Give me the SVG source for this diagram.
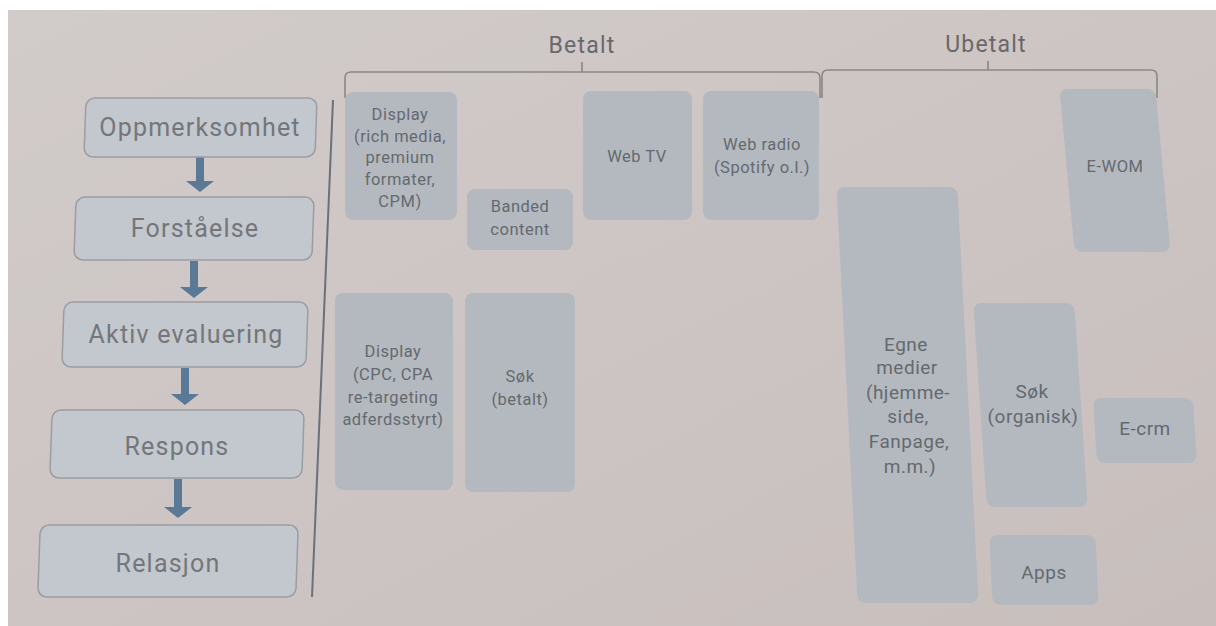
<svg xmlns="http://www.w3.org/2000/svg" width="1216" height="626" viewBox="0 0 1216 626">
  <defs>
    <linearGradient id="paper" x1="0" y1="0" x2="1" y2="1">
      <stop offset="0" stop-color="#d1cbc9"/>
      <stop offset="1" stop-color="#c8bfbd"/>
    </linearGradient>
    <style>
      .stage { fill: #c3c8ce; stroke: #9b9da1; stroke-width: 1.5; }
      .stage-label { font-family: Roboto, "DejaVu Sans", sans-serif; font-size: 25px; fill: #74767a; text-anchor: middle; letter-spacing: 1.2px; }
      .tile { fill: #b4b9c0; }
      .tile-label { font-family: Roboto, "DejaVu Sans", sans-serif; font-size: 16.5px; fill: #65696e; text-anchor: middle; letter-spacing: 0.5px; }
      .big { font-size: 19px; }
      .head { font-family: Roboto, "DejaVu Sans", sans-serif; font-size: 23px; fill: #68686c; text-anchor: middle; letter-spacing: 1.2px; }
      .bracket { fill: none; stroke: #8c8688; stroke-width: 1.6; }
      .flow { fill: #5a7996; }
      .divider { stroke: #6b707b; stroke-width: 2; }
    </style>
  </defs>

  <!-- page -->
  <rect width="1216" height="626" fill="#ffffff"/>
  <rect x="8" y="10" width="1208" height="616" fill="url(#paper)"/>

  <!-- group headers -->
  <g id="header-betalt">
    <path class="bracket" d="M345,98 L345,78 Q345,72 351,72 L814,72 Q820,72 820,78 L820,98 M582,62 L582,72"/>
    <text class="head" x="582" y="53">Betalt</text>
  </g>
  <g id="header-ubetalt">
    <path class="bracket" d="M822,98 L822,76 Q822,70 828,70 L1151,70 Q1157,70 1157,76 L1157,98 M988,61 L988,70"/>
    <text class="head" x="986" y="52">Ubetalt</text>
  </g>

  <line class="divider" x1="333" y1="100" x2="312" y2="597"/>

  <!-- connectors between stages -->
  <g id="connectors">
    <polygon class="flow" points="196,157 204,157 204,181 214,181 200,192 186,181 196,181"/>
    <polygon class="flow" points="190,261 198,261 198,287 208,287 194,298 180,287 190,287"/>
    <polygon class="flow" points="181,368 189,368 189,394 199,394 185,405 171,394 181,394"/>
    <polygon class="flow" points="174,479 182,479 182,507 192,507 178,518 164,507 174,507"/>
  </g>

  <!-- stages -->
  <g id="stage-oppmerksomhet">
    <rect class="stage" x="85" y="98" width="231" height="59" rx="9" transform="translate(200,127.5) skewX(-2) translate(-200,-127.5)"/>
    <text class="stage-label" x="200" y="136">Oppmerksomhet</text>
  </g>
  <g id="stage-forstaelse">
    <rect class="stage" x="75" y="197" width="238" height="63" rx="9" transform="translate(194,228.5) skewX(-2) translate(-194,-228.5)"/>
    <text class="stage-label" x="195" y="237">Forståelse</text>
  </g>
  <g id="stage-aktiv">
    <rect class="stage" x="63" y="302" width="244" height="65" rx="9" transform="translate(185,334.5) skewX(-2) translate(-185,-334.5)"/>
    <text class="stage-label" x="186" y="343">Aktiv evaluering</text>
  </g>
  <g id="stage-respons">
    <rect class="stage" x="51" y="410" width="252" height="68" rx="9" transform="translate(177,444) skewX(-2) translate(-177,-444)"/>
    <text class="stage-label" x="177" y="455">Respons</text>
  </g>
  <g id="stage-relasjon">
    <rect class="stage" x="39" y="525" width="258" height="72" rx="9" transform="translate(168,561) skewX(-2) translate(-168,-561)"/>
    <text class="stage-label" x="168" y="572">Relasjon</text>
  </g>

  <!-- paid channels -->
  <g id="display-rich">
    <rect class="tile" x="345" y="92" width="112" height="128" rx="8"/>
    <text class="tile-label" x="400" y="120">Display</text>
    <text class="tile-label" x="400" y="142">(rich media,</text>
    <text class="tile-label" x="400" y="163">premium</text>
    <text class="tile-label" x="400" y="185">formater,</text>
    <text class="tile-label" x="400" y="207">CPM)</text>
  </g>
  <g id="banded-content">
    <rect class="tile" x="467" y="189" width="106" height="61" rx="8"/>
    <text class="tile-label" x="520" y="212">Banded</text>
    <text class="tile-label" x="520" y="235">content</text>
  </g>
  <g id="web-tv">
    <rect class="tile" x="583" y="91" width="109" height="129" rx="8"/>
    <text class="tile-label" x="637" y="162">Web TV</text>
  </g>
  <g id="web-radio">
    <rect class="tile" x="703" y="91" width="116" height="129" rx="8"/>
    <text class="tile-label" x="762" y="150">Web radio</text>
    <text class="tile-label" x="762" y="173">(Spotify o.l.)</text>
  </g>
  <g id="display-cpc">
    <rect class="tile" x="335" y="293" width="118" height="197" rx="8"/>
    <text class="tile-label" x="393" y="357">Display</text>
    <text class="tile-label" x="393" y="380">(CPC, CPA</text>
    <text class="tile-label" x="393" y="403">re-targeting</text>
    <text class="tile-label" x="393" y="425" letter-spacing="0">adferdsstyrt)</text>
  </g>
  <g id="sok-betalt">
    <rect class="tile" x="465" y="293" width="110" height="199" rx="8"/>
    <text class="tile-label" x="520" y="382">Søk</text>
    <text class="tile-label" x="520" y="405">(betalt)</text>
  </g>

  <!-- unpaid channels -->
  <g id="e-wom">
    <rect class="tile" x="1067" y="89" width="96" height="163" rx="8" transform="translate(1115,170.5) skewX(5.3) translate(-1115,-170.5)"/>
    <text class="tile-label" x="1115" y="172">E-WOM</text>
  </g>
  <g id="egne-medier">
    <rect class="tile" x="847" y="187" width="121" height="416" rx="8" transform="translate(907,395) skewX(2.9) translate(-907,-395)"/>
    <text class="tile-label big" x="906" y="351">Egne</text>
    <text class="tile-label big" x="907" y="374">medier</text>
    <text class="tile-label big" x="908" y="399">(hjemme-</text>
    <text class="tile-label big" x="908" y="423">side,</text>
    <text class="tile-label big" x="909" y="448">Fanpage,</text>
    <text class="tile-label big" x="910" y="473">m.m.)</text>
  </g>
  <g id="sok-organisk">
    <rect class="tile" x="980" y="303" width="101" height="204" rx="8" transform="translate(1031,405) skewX(3.8) translate(-1031,-405)"/>
    <text class="tile-label big" x="1032" y="398">Søk</text>
    <text class="tile-label big" x="1033" y="423">(organisk)</text>
  </g>
  <g id="e-crm">
    <rect class="tile" x="1095" y="398" width="100" height="65" rx="8" transform="translate(1145,430.5) skewX(3.5) translate(-1145,-430.5)"/>
    <text class="tile-label big" x="1145" y="435">E-crm</text>
  </g>
  <g id="apps">
    <rect class="tile" x="991" y="535" width="106" height="70" rx="8" transform="translate(1044,570) skewX(2.5) translate(-1044,-570)"/>
    <text class="tile-label big" x="1044" y="579">Apps</text>
  </g>
</svg>
